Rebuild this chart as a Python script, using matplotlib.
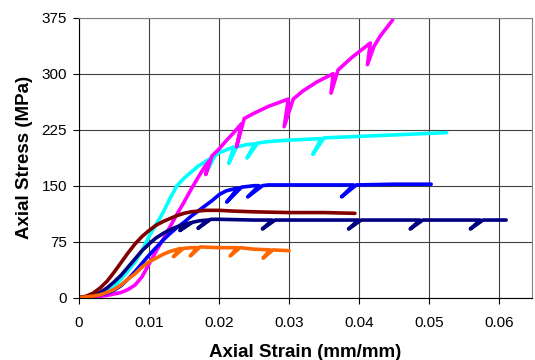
import matplotlib
matplotlib.use("Agg")
import matplotlib.pyplot as plt

plt.rcParams['font.family'] = ['Liberation Sans', 'DejaVu Sans']

# ---- data (strain mm/mm, stress MPa) ----
maroon_x = [0, 0.001, 0.002, 0.003, 0.004, 0.005, 0.006, 0.007, 0.008, 0.009, 0.010, 0.011, 0.012,
            0.013, 0.014, 0.015, 0.016, 0.018, 0.020, 0.022, 0.025, 0.030, 0.035, 0.0394]
maroon_y = [0, 2, 6, 13, 22, 34, 47, 60, 72, 82, 90, 97, 102, 106, 110, 113, 115, 117, 117, 116,
            115, 114, 114, 113]

navy_x = [0, 0.001, 0.002, 0.003, 0.004, 0.005, 0.006, 0.007, 0.008, 0.009, 0.010, 0.011, 0.012,
          0.013, 0.014, 0.0158, 0.0144, 0.0162, 0.0172, 0.0184, 0.0170, 0.0188, 0.020, 0.025,
          0.0276, 0.0262, 0.0280, 0.030, 0.035, 0.0399, 0.0385, 0.0403, 0.045, 0.0487, 0.0473,
          0.0491, 0.0573, 0.0559, 0.0577, 0.061]
navy_y = [0, 1, 3, 7, 13, 21, 30, 41, 52, 63, 72, 80, 86, 91, 95, 100, 90, 101, 103, 104, 93, 105,
          105, 104, 104, 92, 104, 104, 104, 104, 92, 104, 104, 104, 92, 104, 104, 92, 104, 104]

blue_x = [0, 0.002, 0.004, 0.005, 0.006, 0.007, 0.008, 0.009, 0.010, 0.011, 0.012, 0.013, 0.014,
          0.015, 0.016, 0.017, 0.018, 0.019, 0.020, 0.021, 0.0227, 0.0211, 0.0232, 0.025, 0.0257,
          0.0241, 0.0262, 0.027, 0.030, 0.035, 0.0392, 0.0375, 0.0396, 0.045, 0.0503]
blue_y = [0, 2, 6, 10, 16, 25, 35, 46, 57, 67, 77, 86, 94, 101, 109, 116, 123, 130, 138, 143, 147,
          128, 148, 150, 150, 135, 150, 151, 151, 151, 151, 135, 151, 152, 152]

cyan_x = [0, 0.002, 0.004, 0.005, 0.006, 0.007, 0.008, 0.009, 0.010, 0.011, 0.012, 0.013, 0.014,
          0.015, 0.016, 0.017, 0.018, 0.0190, 0.0183, 0.0194, 0.020, 0.0221, 0.0214, 0.0225,
          0.024, 0.0251, 0.0240, 0.0255, 0.027, 0.030, 0.0346, 0.0334, 0.0350, 0.040, 0.045,
          0.050, 0.0525]
cyan_y = [0, 2, 8, 14, 25, 36, 48, 63, 82, 98, 114, 133, 150, 160, 168, 176, 182, 188, 170, 190,
          194, 202, 180, 202, 205, 206, 187, 207, 209, 211, 213, 192, 214, 216, 218, 220, 221]

magenta_x = [0, 0.002, 0.004, 0.006, 0.007, 0.008, 0.009, 0.010, 0.011, 0.012, 0.013, 0.014, 0.015,
             0.016, 0.017, 0.018, 0.0186, 0.0181, 0.019, 0.020, 0.021, 0.022, 0.0232, 0.0225,
             0.0236, 0.025, 0.027, 0.0299, 0.0293, 0.0306, 0.032, 0.034, 0.0363, 0.0360, 0.037,
             0.039, 0.0416, 0.0412, 0.0421, 0.043, 0.0448]
magenta_y = [0, 1, 3, 7, 11, 17, 28, 45, 62, 78, 95, 112, 128, 145, 161, 176, 183, 165, 190, 199,
             210, 220, 233, 202, 240, 247, 256, 266, 229, 266, 277, 289, 300, 274, 305, 322, 341,
             312, 336, 350, 372]

orange_x = [0, 0.001, 0.002, 0.003, 0.004, 0.005, 0.006, 0.007, 0.008, 0.009, 0.010, 0.011, 0.012,
            0.013, 0.0145, 0.0135, 0.0149, 0.016, 0.0169, 0.0159, 0.0173, 0.020, 0.0226, 0.0216,
            0.0230, 0.025, 0.0273, 0.0263, 0.0277, 0.030]
orange_y = [0, 1, 2, 4, 7, 11, 17, 25, 32, 41, 48, 53, 58, 62, 66, 55, 66, 67, 67, 56, 68, 67, 67,
            56, 67, 65, 64, 53, 64, 63]

x_ticks = [0, 0.01, 0.02, 0.03, 0.04, 0.05, 0.06]
x_tick_labels = ['0', '0.01', '0.02', '0.03', '0.04', '0.05', '0.06']
y_ticks = [0, 75, 150, 225, 300, 375]

series = [
    (cyan_x, cyan_y, '#00FFFF'),
    (magenta_x, magenta_y, '#FF00FF'),
    (blue_x, blue_y, '#0000FF'),
    (navy_x, navy_y, '#000080'),
    (maroon_x, maroon_y, '#800000'),
    (orange_x, orange_y, '#FF6600'),
]

fig = plt.figure(figsize=(5.35, 3.6), dpi=100)
ax = fig.add_axes([0.1477, 0.173, 0.8467, 0.778])

for xs, ys, c in series:
    ax.plot(xs, ys, color=c, lw=2.6, solid_capstyle='round', solid_joinstyle='round')

ax.set_xlim(0, 0.0647)
ax.set_ylim(0, 375)
ax.set_xticks(x_ticks)
ax.set_xticklabels(x_tick_labels)
ax.set_yticks(y_ticks)
ax.grid(True, color='#404040', lw=0.8)
ax.set_axisbelow(True)

for s in ['top', 'right']:
    ax.spines[s].set_color('#808080')
    ax.spines[s].set_linewidth(0.8)
for s in ['left', 'bottom']:
    ax.spines[s].set_color('black')
    ax.spines[s].set_linewidth(0.8)

ax.tick_params(axis='both', direction='out', length=4, width=0.8, labelsize=11, colors='black')
ax.tick_params(axis='x', pad=9)
ax.tick_params(axis='y', pad=4.5)

ax.set_xlabel('Axial Strain (mm/mm)', fontsize=13.5, fontweight='bold', labelpad=10)
ax.set_ylabel('Axial Stress (MPa)', fontsize=13.5, fontweight='bold', labelpad=6)

fig.savefig('out.png', dpi=100)
